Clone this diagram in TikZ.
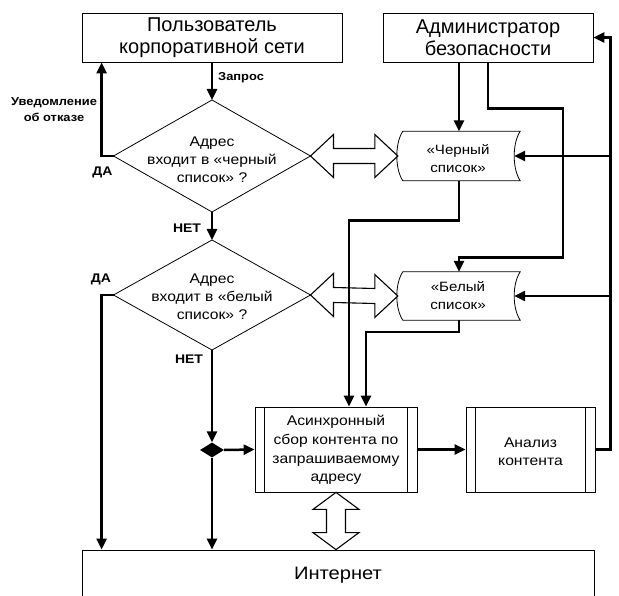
\documentclass[tikz,border=0pt]{standalone}
\usepackage{fontspec}
\setmainfont{Liberation Sans}
\newfontfamily\wf[FakeStretch=1.12]{Liberation Sans}
\usetikzlibrary{shapes.geometric,arrows.meta,calc}
\newcommand\dblharrow[2]{\draw[hollow] (#1) -- ++(23,-21.5) -- ++(0,14) -- ($(#2)+(-23,-7.5)$) -- ++(0,-14) -- (#2) -- ++(-23,21.5) -- ++(0,-14) -- ($(#1)+(23,7.5)$) -- ++(0,14) -- cycle;}
\newcommand\dblvarrow[2]{\draw[hollow] (#1) -- ++(23,17) -- ++(-13.5,0) -- ($(#2)+(9.5,-17)$) -- ++(13.5,0) -- (#2) -- ++(-23,-17) -- ++(13.5,0) -- ($(#1)+(-9.5,17)$) -- ++(-13.5,0) -- cycle;}
\newcommand\sdraw[1]{\draw[thinline] ($(#1.north west)+(5,0)$) -- (#1.north east) .. controls +(-8,12) and +(-8,-12) .. (#1.south east) -- ($(#1.south west)+(5,0)$) .. controls +(-8,-12) and +(-8,12) .. ($(#1.north west)+(5,0)$) -- cycle;}
\newcommand\ppbox[1]{\draw[thinline] ([xshift=10pt]#1.north west) -- ([xshift=10pt]#1.south west); \draw[thinline] ([xshift=-10pt]#1.north east) -- ([xshift=-10pt]#1.south east);}
\begin{document}
\begin{tikzpicture}[x=1pt,y=-1pt,
  conn/.style={line width=2.5pt, -{Triangle[length=11pt,width=10pt]}},
  thinline/.style={line width=0.8pt},
  box/.style={draw, line width=0.8pt, inner sep=0pt, align=center},
  hollow/.style={draw, line width=1.1pt, fill=white, line join=miter},
  title/.style={font=\fontsize{20}{22}\selectfont},
  txt/.style={inner sep=0pt, align=center, font=\wf\fontsize{14}{18}\selectfont},
  lbl/.style={inner sep=0pt, font=\wf\bfseries\fontsize{12.5}{14}\selectfont},
  jdiam/.style={diamond, fill=black, draw=none, inner sep=0pt, minimum width=24pt, minimum height=15pt}]
\useasboundingbox (0,0) rectangle (619,596);
\clip (0,0) rectangle (619,596);
% boxes
\node[box, title, minimum width=260pt, minimum height=49pt] (user) at (212,37.5) {Пользователь\\корпоративной сети};
\node[box, title, minimum width=210pt, minimum height=49pt] (admin) at (488,37.5) {Администратор\\безопасности};
% diamond 1
\coordinate (d1t) at (212,100);
\coordinate (d1b) at (212,212);
\coordinate (d1l) at (113.5,156);
\coordinate (d1r) at (310.5,156);
\draw[thinline] (d1t) -- (d1r) -- (d1b) -- (d1l) -- cycle;
\node[txt] (d1) at (212,160) {Адрес\\входит в «черный\\список» ?};
% diamond 2
\coordinate (d2t) at (212,240);
\coordinate (d2b) at (212,350);
\coordinate (d2l) at (113.5,295);
\coordinate (d2r) at (310.5,295);
\draw[thinline] (d2t) -- (d2r) -- (d2b) -- (d2l) -- cycle;
\node[txt] (d2) at (212,297) {Адрес\\входит в «белый\\список» ?};
% lists
\node[inner sep=0pt, minimum width=122pt, minimum height=49pt] (bl) at (459,156) {};
\sdraw{bl}
\node[txt, font=\wf\fontsize{13.5}{18}\selectfont] (blt) at (458,159) {«Черный\\список»};
\node[inner sep=0pt, minimum width=122pt, minimum height=48pt] (wl) at (459,296) {};
\sdraw{wl}
\node[txt, font=\wf\fontsize{13.5}{18}\selectfont] (wlt) at (458,296) {«Белый\\список»};
% process boxes
\node[box, minimum width=162pt, minimum height=85pt] (async) at (336,449.5) {};
\ppbox{async}
\node[txt, font=\wf\fontsize{14}{18.7}\selectfont] (asynct) at (336,450) {Асинхронный\\сбор контента по\\запрашиваемому\\адресу};
\node[box, minimum width=129pt, minimum height=85pt] (an) at (530.5,449.5) {};
\ppbox{an}
\node[txt] (ant) at (530.5,452) {Анализ\\контента};
% internet
\node[box, minimum width=512pt, minimum height=60pt] (inet) at (338,580) {};
\node[txt, font=\wf\fontsize{18}{20}\selectfont] (inett) at (338,575) {Интернет};
% junction
\node[jdiam] (jn) at (212,450) {};
% hollow arrows
\dblharrow{d1r}{bl.west}
\dblharrow{d2r}{wl.west}
\dblvarrow{async.south}{async.south |- inet.north}
% connectors
\draw[conn] (user.south) -- (d1t);
\draw[conn] (d1l) -| ([xshift=20pt]user.south west);
\draw[conn] (d1b) -- (d2t);
\draw[conn] (d2l) -| ([xshift=20pt]inet.north west);
\draw[conn] (d2b) -- (jn.north);
\draw[conn] (jn.east) -- (async.west);
\draw[conn] (jn.south) -- (jn.south |- inet.north);
\draw[conn] (async.east) -- (an.west);
\draw[conn] (admin.south -| bl.north) -- (bl.north);
\draw[conn] (admin.south) -- ++(0,46) -- ++(75,0) -- ++(0,149) -| (wl.north);
\draw[conn] (bl.south) -- ++(0,40) -| ([xshift=13pt]async.north);
\draw[conn] (wl.south) -- ++(0,12) -| ([xshift=30pt]async.north);
\draw[conn] (an.east) -- ++(15,0) coordinate (rc) |- (admin.east);
\draw[conn] (rc |- bl.east) -- ([xshift=-6pt]bl.east);
\draw[conn] (rc |- wl.east) -- ([xshift=-6pt]wl.east);
% labels
\node[lbl, anchor=west, font=\wf\bfseries\fontsize{11.5}{13}\selectfont] (lq) at (218,77.5) {Запрос};
\node[lbl, align=center, font=\wf\bfseries\fontsize{11.5}{16}\selectfont] (lnote) at (54,110) {Уведомление\\об отказе};
\node[lbl] (lda1) at (102.5,172.5) {ДА};
\node[lbl] (lnet1) at (187,228) {НЕТ};
\node[lbl] (lda2) at (101,279) {ДА};
\node[lbl] (lnet2) at (189,359) {НЕТ};
\end{tikzpicture}
\end{document}
